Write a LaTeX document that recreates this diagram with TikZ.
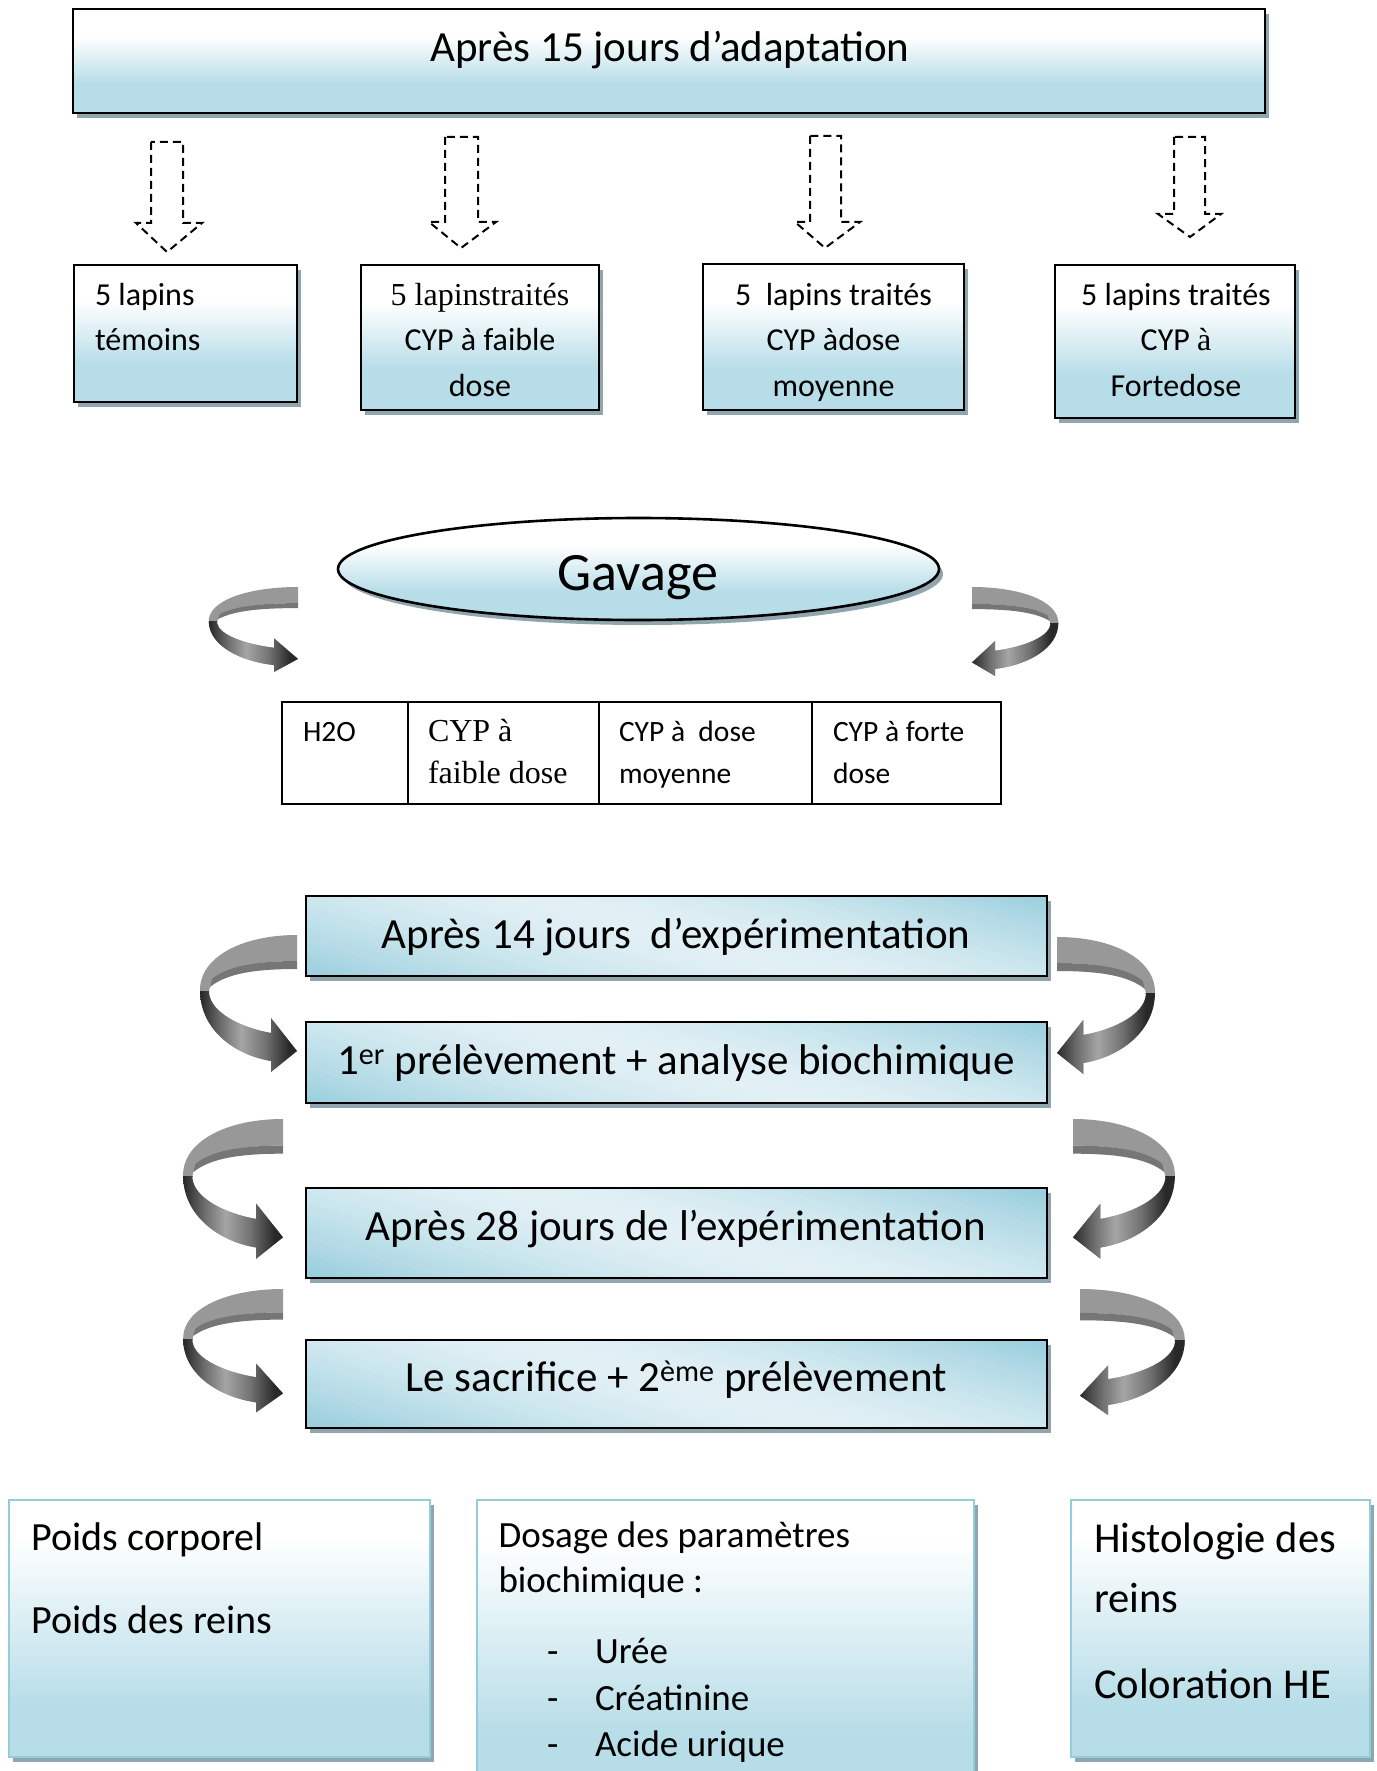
\documentclass[tikz,border=0pt]{standalone}
\usepackage{fontspec}
\setmainfont{Carlito}
\newfontfamily\tms{Liberation Serif}
\usetikzlibrary{shapes.geometric,shadows,calc}

\definecolor{boxblue}{RGB}{183,221,232}
\definecolor{shadowc}{RGB}{143,166,175}
\definecolor{diagblue}{RGB}{152,206,221}
\definecolor{diaglight}{RGB}{226,240,245}
\definecolor{thinblue}{RGB}{146,205,220}
\definecolor{ribgray}{RGB}{152,152,152}
\definecolor{ribside}{RGB}{118,118,118}
\definecolor{rA}{RGB}{35,35,35}
\definecolor{rB}{RGB}{110,110,110}
\definecolor{rC}{RGB}{165,165,165}
\definecolor{rD}{RGB}{115,115,115}
\definecolor{rE}{RGB}{40,40,40}

\pgfdeclareverticalshading{topfade}{100bp}{color(0bp)=(boxblue); color(39bp)=(boxblue); color(62bp)=(white); color(100bp)=(white)}
\pgfdeclareverticalshading{botfade}{100bp}{color(0bp)=(boxblue); color(35bp)=(boxblue); color(68bp)=(white); color(100bp)=(white)}
\pgfdeclarehorizontalshading{ribshade}{100bp}{color(0bp)=(rA); color(25bp)=(rA); color(36bp)=(rB); color(46bp)=(rC); color(58bp)=(rD); color(70bp)=(rE); color(100bp)=(rE)}

\newcommand\ribbonpath{(0,0) .. controls (-55,0) and (-97,22) .. (-97,55) .. controls (-97,95) and (-62,120) .. (-26,126) -- (-26,137) -- (0,116) -- (-26,83) -- (-26,98) .. controls (-55,93) and (-86,78) .. (-88,58) .. controls (-88,35) and (-50,26) .. (0,26) -- cycle}

\tikzset{
  ribbon/.pic={
    \fill[ribgray] \ribbonpath;
    \begin{scope}
      \clip \ribbonpath;
      \shade[shading=ribshade] (-98,56) rectangle (2,140);
    \end{scope}
    \fill[ribside] (0,26) .. controls (-40,26) and (-70,31) .. (-85,44) -- (-87,52) .. controls (-70,38) and (-40,34) .. (0,34) -- cycle;
  },
}

\begin{document}
\begin{tikzpicture}[x=1pt,y=-1pt,
  txt/.style={inner sep=0pt, outer sep=0pt},
  shadowed/.style={drop shadow={shadow xshift=4pt, shadow yshift=-5pt, fill=shadowc, opacity=1}},
  fadebox/.style={rectangle, draw=black, line width=2.6pt, shade, shading=topfade, shadowed, inner sep=0pt},
  diagbox/.style={rectangle, draw=black, line width=2.6pt, fill=diagblue, shadowed, inner sep=0pt, minimum width=741pt,
    path picture={
      \foreach \k in {-30,...,29}{
        \pgfmathsetmacro\pp{100*min(1,(abs(\k+0.5)/28))^1.5}
        \pgfmathsetmacro\sa{\k*5}
        \pgfmathsetmacro\sb{\k*5+5.8}
        \fill[diagblue!\pp!diaglight]
          ($(path picture bounding box.center)+({0.267*(\sa)-481.5},{-0.963*(\sa)-133.5})$) --
          ($(path picture bounding box.center)+({0.267*(\sa)+481.5},{-0.963*(\sa)+133.5})$) --
          ($(path picture bounding box.center)+({0.267*(\sb)+481.5},{-0.963*(\sb)+133.5})$) --
          ($(path picture bounding box.center)+({0.267*(\sb)-481.5},{-0.963*(\sb)-133.5})$) -- cycle;
      }}},
  botbox/.style={rectangle, draw=thinblue, line width=2.5pt, shade, shading=botfade, shadowed, inner sep=0pt},
  dasharrow/.style={draw=black, line width=2pt, dash pattern=on 8pt off 5pt},
  sm/.style={txt, font=\fontsize{32}{38}\selectfont},
  smt/.style={txt, font=\tms\fontsize{32}{38}\selectfont},
  big/.style={txt, font=\fontsize{43}{50}\selectfont},
  tb/.style={txt, font=\fontsize{29.5}{35}\selectfont},
  tbt/.style={txt, font=\tms\fontsize{32}{38}\selectfont},
]
\useasboundingbox (0,0) rectangle (1376,1771);
\fill[white] (0,0) rectangle (1376,1771);

% ---------- top box ----------
\node[fadebox, minimum width=1192pt, minimum height=104pt] (top) at (669,61) {};
\node[big, anchor=base] (toptxt) at (670,62) {Après 15 jours d’adaptation};

% ---------- dashed block arrows ----------
\draw[dasharrow] (151,142) -- (151,223) -- (136,223) -- (167,252) -- (202,223) -- (183,223) -- (183,142) -- cycle;
\draw[dasharrow] (445,137) -- (445,222) -- (429,222) -- (461,248) -- (496,222) -- (478,222) -- (478,137) -- cycle;
\draw[dasharrow] (810,136) -- (810,222) -- (795,222) -- (825,248) -- (860,222) -- (841,222) -- (841,136) -- cycle;
\draw[dasharrow] (1174,137) -- (1174,214) -- (1158,214) -- (1190,237) -- (1221,214) -- (1205,214) -- (1205,137) -- cycle;

% ---------- four group boxes ----------
\node[fadebox, minimum width=223pt, minimum height=137pt] (b1) at (185.5,333.5) {};
\node[fadebox, minimum width=238pt, minimum height=145pt] (b2) at (480,337.5) {};
\node[fadebox, minimum width=261pt, minimum height=146pt] (b3) at (833.5,337) {};
\node[fadebox, minimum width=240pt, minimum height=153pt] (b4) at (1175,341.5) {};

\node[sm, anchor=base west] (t1a) at (95,305) {5 lapins};
\node[sm, anchor=base west] (t1b) at (95,350.5) {témoins};

\node[smt, anchor=base] (t2a) at (480,305) {5 lapinstraités};
\node[sm, anchor=base] (t2b) at (480,350.5) {CYP à faible};
\node[sm, anchor=base] (t2c) at (480,396) {dose};

\node[sm, anchor=base] (t3a) at (833.5,305) {5\ \ lapins traités};
\node[sm, anchor=base] (t3b) at (833.5,350.5) {CYP àdose};
\node[sm, anchor=base] (t3c) at (833.5,396) {moyenne};

\node[sm, anchor=base] (t4a) at (1176,305) {5 lapins traités};
\node[sm, anchor=base] (t4b) at (1176,350.5) {CYP {\tms à}};
\node[sm, anchor=base] (t4c) at (1176,396) {Fortedose};

% ---------- Gavage ----------
\node[ellipse, draw=black, line width=2.6pt, shade, shading=topfade, shadowed, minimum width=601pt, minimum height=102pt, inner sep=0pt] (gav) at (638.5,569) {};
\node[txt, anchor=base, font=\fontsize{54}{62}\selectfont] (gavtxt) at (638,590) {Gavage};

\pic (rl0) [xscale=0.92, yscale=0.62] at (298,587) {ribbon};
\pic (rr0) [xscale=-0.89, yscale=0.65] at (972,587) {ribbon};

% ---------- table ----------
\node[rectangle, draw=black, line width=1.5pt, minimum width=719pt, minimum height=102pt, inner sep=0pt] (tab) at (641.5,753) {};
\draw[line width=1.5pt] (408,0 |- tab.north) -- (408,0 |- tab.south);
\draw[line width=1.5pt] (599,0 |- tab.north) -- (599,0 |- tab.south);
\draw[line width=1.5pt] (812,0 |- tab.north) -- (812,0 |- tab.south);

\node[tb, anchor=base west] (c1a) at (303,741) {H2O};
\node[tbt, anchor=base west] (c2a) at (428,741) {CYP à};
\node[tbt, anchor=base west] (c2b) at (428,783) {faible dose};
\node[tb, anchor=base west] (c3a) at (619,741) {CYP à\ \ dose};
\node[tb, anchor=base west] (c3b) at (619,783) {moyenne};
\node[tb, anchor=base west] (c4a) at (833,741) {CYP à forte};
\node[tb, anchor=base west] (c4b) at (833,783) {dose};

% ---------- timeline boxes ----------
\node[diagbox, minimum height=80pt] (s1) at (676.5,936) {};
\node[diagbox, minimum height=81pt] (s2) at (676.5,1062.5) {};
\node[diagbox, minimum height=90pt] (s3) at (676.5,1233) {};
\node[diagbox, minimum height=88pt] (s4) at (676.5,1384) {};

\node[big, anchor=base] (s1t) at (676,948) {Après 14 jours\ \ d’expérimentation};
\node[big, anchor=base] (s2t) at (676,1074) {1\textsuperscript{er} prélèvement + analyse biochimique};
\node[big, anchor=base] (s3t) at (676,1240) {Après 28 jours de l’expérimentation};
\node[big, anchor=base] (s4t) at (676,1391) {Le sacrifice + 2\textsuperscript{ème} prélèvement};

\pic (rl1) [xscale=1, yscale=1] at (297,935) {ribbon};
\pic (rr1) [xscale=-1.01, yscale=1] at (1057,937) {ribbon};
\pic (rl2) [xscale=1.03, yscale=1.02] at (283,1119) {ribbon};
\pic (rr2) [xscale=-1.05, yscale=1.02] at (1073,1119) {ribbon};
\pic (rl3) [xscale=1.03, yscale=0.9] at (283,1289) {ribbon};
\pic (rr3) [xscale=-1.08, yscale=0.92] at (1080,1289) {ribbon};

% ---------- bottom boxes ----------
\node[botbox, minimum width=421pt, minimum height=257pt] (p) at (219.5,1628.5) {};
\node[botbox, minimum width=497pt, minimum height=290pt] (q) at (725.5,1645) {};
\node[botbox, minimum width=299pt, minimum height=257pt] (r) at (1220.5,1628.5) {};

\node[txt, anchor=base west, font=\fontsize{40}{46}\selectfont] (pa) at (31.6,1550) {Poids corporel};
\node[txt, anchor=base west, font=\fontsize{40}{46}\selectfont] (pb) at (31.6,1633) {Poids des reins};

\node[txt, anchor=base west, font=\fontsize{37}{44}\selectfont] (qa) at (498.5,1547) {Dosage des paramètres};
\node[txt, anchor=base west, font=\fontsize{37}{44}\selectfont] (qb) at (498.5,1592) {biochimique :};
\node[txt, anchor=base west, font=\fontsize{37}{44}\selectfont] (qd1) at (547,1663) {-};
\node[txt, anchor=base west, font=\fontsize{37}{44}\selectfont] (qd2) at (547,1710) {-};
\node[txt, anchor=base west, font=\fontsize{37}{44}\selectfont] (qd3) at (547,1756) {-};
\node[txt, anchor=base west, font=\fontsize{37}{44}\selectfont] (qc1) at (595,1663) {Urée};
\node[txt, anchor=base west, font=\fontsize{37}{44}\selectfont] (qc2) at (595,1710) {Créatinine};
\node[txt, anchor=base west, font=\fontsize{37}{44}\selectfont] (qc3) at (595,1756) {Acide urique};

\node[txt, anchor=base west, font=\fontsize{42.6}{50}\selectfont] (ra) at (1094,1552) {Histologie des};
\node[txt, anchor=base west, font=\fontsize{42.6}{50}\selectfont] (rb) at (1094,1612) {reins};
\node[txt, anchor=base west, font=\fontsize{42.6}{50}\selectfont] (rc) at (1094,1698) {Coloration HE};
\end{tikzpicture}
\end{document}
